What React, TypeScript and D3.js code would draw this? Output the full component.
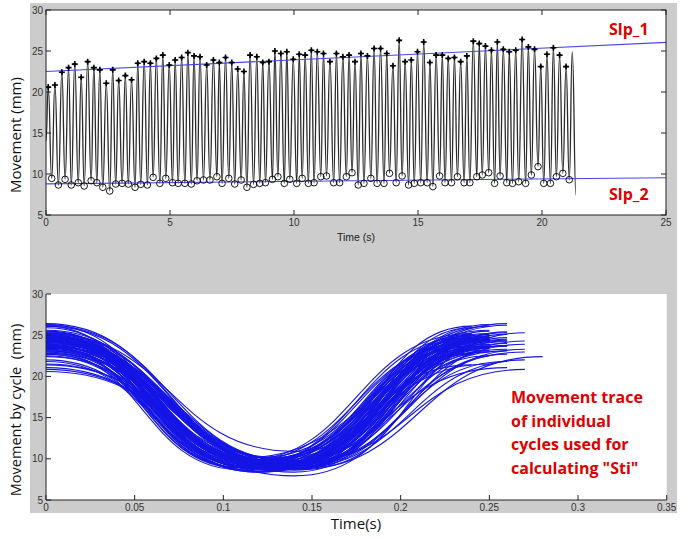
import React from "react";
import * as d3 from "d3";

// ---------- data ----------
// Peak times (s) of the movement trace; last one is the final, unmarked peak
const peakTimes = [
  0.09, 0.36, 0.64, 0.91, 1.16, 1.42, 1.68, 1.93, 2.17, 2.43, 2.69, 2.93, 3.2, 3.45, 3.7, 3.96, 4.21, 4.45, 4.71, 4.97, 5.21, 5.47, 5.72, 5.97,
  6.21, 6.48, 6.75, 6.99, 7.24, 7.49, 7.73, 7.98, 8.23, 8.5, 8.74, 8.99, 9.23, 9.47, 9.71, 9.97, 10.21, 10.45, 10.7, 10.94, 11.19, 11.45, 11.71, 11.97, 12.22,
  12.46, 12.7, 12.96, 13.23, 13.49, 13.74, 13.99, 14.24, 14.48, 14.73, 14.98, 15.23, 15.48, 15.73, 15.98, 16.22, 16.47, 16.72, 16.97, 17.23, 17.47, 17.72, 17.96, 18.2, 18.44,
  18.68, 18.94, 19.2, 19.45, 19.7, 19.95, 20.2, 20.46, 20.71, 20.97, 21.22,
];
const peakValues = [
  20.6, 20.85, 22.4, 22.97, 23.4, 21.8, 23.7, 22.97, 22.7, 21.06, 22.7, 21.4, 22.0, 21.5, 23.5, 23.7, 23.5, 24.1, 24.5, 23.3, 23.9, 24.2, 24.8, 24.4,
  24.3, 23.3, 23.9, 23.6, 24.2, 23.6, 22.8, 22.5, 24.5, 24.3, 23.6, 23.7, 25.0, 24.7, 24.9, 24.0, 24.6, 24.5, 25.1, 24.9, 24.7, 23.7, 24.7, 24.3, 24.5,
  23.7, 24.7, 24.4, 25.3, 25.3, 24.7, 23.2, 26.3, 23.7, 23.9, 24.9, 26.1, 23.6, 24.5, 24.5, 24.1, 24.2, 23.7, 24.4, 26.2, 25.9, 25.6, 25.1, 26.1, 25.2,
  24.9, 25.1, 26.4, 25.5, 25.2, 23.1, 24.6, 25.4, 24.5, 23.1, 24.9,
];
// Trough times (s) and values (mm), one between each pair of peaks
const troughTimes = [
  0.23, 0.5, 0.77, 1.02, 1.3, 1.54, 1.82, 2.05, 2.29, 2.57, 2.81, 3.07, 3.32, 3.59, 3.82, 4.09, 4.32, 4.59, 4.83, 5.1, 5.33, 5.6, 5.86,
  6.09, 6.35, 6.61, 6.89, 7.1, 7.37, 7.61, 7.87, 8.1, 8.37, 8.62, 8.85, 9.13, 9.35, 9.61, 9.83, 10.11, 10.33, 10.58, 10.81, 11.08, 11.31, 11.6, 11.84, 12.11, 12.34,
  12.59, 12.82, 13.1, 13.35, 13.63, 13.85, 14.12, 14.36, 14.62, 14.85, 15.11, 15.37, 15.6, 15.87, 16.09, 16.35, 16.59, 16.86, 17.09, 17.37, 17.59, 17.85, 18.09, 18.31, 18.58,
  18.81, 19.06, 19.34, 19.57, 19.84, 20.07, 20.34, 20.58, 20.84, 21.1,
];
const troughValues = [
  9.47, 8.66, 9.35, 8.66, 8.94, 8.54, 9.18, 8.94, 8.38, 7.93, 8.78, 8.86, 8.78, 8.38, 8.74, 8.66, 9.59, 8.86, 9.47, 8.94, 8.86, 8.86, 8.78,
  9.18, 9.27, 9.27, 9.67, 8.86, 9.47, 8.78, 9.27, 8.38, 8.74, 8.86, 8.94, 9.35, 9.67, 8.86, 9.35, 8.86, 9.47, 8.86, 8.94, 9.67, 9.76, 8.94, 8.94, 9.67, 10.16,
  8.66, 8.86, 9.47, 8.86, 8.86, 10.08, 8.94, 9.76, 8.66, 8.86, 8.94, 8.94, 8.46, 9.76, 8.94, 8.94, 9.67, 8.94, 8.94, 9.67, 9.88, 10.16, 8.86, 9.76, 8.94,
  8.86, 9.06, 8.86, 9.88, 10.9, 8.86, 8.86, 9.67, 10.08, 9.3,
];
const signalStart: [number, number] = [0, 14];
const signalEnd: [number, number] = [21.37, 7.4];
const slp1Line: [number, number][] = [[0, 22.5], [25, 26.05]];
const slp2Line: [number, number][] = [[0, 8.8], [25, 9.55]];

const topXTicks = [0, 5, 10, 15, 20, 25];
const yTicks = [5, 10, 15, 20, 25, 30];
const bottomXTicks = [0, 0.05, 0.1, 0.15, 0.2, 0.25, 0.3, 0.35];
const bottomXTickLabels = ["0", "0.05", "0.1", "0.15", "0.2", "0.25", "0.3", "0.35"];
const noteLines = ["Movement trace", "of individual", "cycles used for", 'calculating "Sti"'];

// ---------- layout ----------
const W = 691;
const H = 540;
const top = { l: 46, r: 666, t: 10, b: 215 };
const bot = { l: 46, r: 666.7, t: 294, b: 500 };

const tickFont = "'Liberation Sans', Arial, sans-serif";
const labelFont = "'Open Sans', 'Noto Sans', sans-serif";
const red = "#e00000";

export default function App() {
  const xTop = d3.scaleLinear().domain([0, 25]).range([top.l, top.r]);
  const yTop = d3.scaleLinear().domain([5, 30]).range([top.b, top.t]);
  const xBot = d3.scaleLinear().domain([0, 0.35]).range([bot.l, bot.r]);
  const yBot = d3.scaleLinear().domain([5, 30]).range([bot.b, bot.t]);

  // full signal: start, p0, t0, p1, ..., p_last, end
  const signal: [number, number][] = [signalStart];
  peakTimes.forEach((pt, i) => {
    signal.push([pt, peakValues[i]]);
    if (i < troughTimes.length) signal.push([troughTimes[i], troughValues[i]]);
  });
  signal.push(signalEnd);

  const lineTop = d3
    .line<[number, number]>()
    .x((d) => xTop(d[0]))
    .y((d) => yTop(d[1]))
    .curve(d3.curveBumpX);
  const straightTop = d3
    .line<[number, number]>()
    .x((d) => xTop(d[0]))
    .y((d) => yTop(d[1]));

  const cycles: [number, number][][] = troughTimes.map((tt, i) => [
    [0, peakValues[i]],
    [tt - peakTimes[i], troughValues[i]],
    [peakTimes[i + 1] - peakTimes[i], peakValues[i + 1]],
  ]);
  const lineBot = d3
    .line<[number, number]>()
    .x((d) => xBot(d[0]))
    .y((d) => yBot(d[1]))
    .curve(d3.curveBumpX);

  const markedPeaks = peakTimes.slice(0, troughTimes.length);

  return (
    <svg
      width={W}
      height={H}
      viewBox={`0 0 ${W} ${H}`}
      style={{ position: "absolute", left: 0, top: 0, background: "#fff" }}
    >
      {/* figure background */}
      <rect x={30} y={3} width={647} height={510} fill="#cccccc" />

      {/* ================= TOP PANEL ================= */}
      <rect x={top.l} y={top.t} width={top.r - top.l} height={top.b - top.t} fill="#fff" />
      <defs>
        <clipPath id="clipTop">
          <rect x={top.l} y={top.t} width={top.r - top.l} height={top.b - top.t} />
        </clipPath>
        <clipPath id="clipBot">
          <rect x={bot.l} y={bot.t} width={bot.r - bot.l} height={bot.b - bot.t} />
        </clipPath>
      </defs>
      <g clipPath="url(#clipTop)">
        <path d={lineTop(signal) || ""} fill="none" stroke="#2a2a2a" strokeWidth={1.3} />
        <path d={straightTop(slp1Line) || ""} fill="none" stroke="#4646f0" strokeWidth={1.1} />
        <path d={straightTop(slp2Line) || ""} fill="none" stroke="#4646f0" strokeWidth={1.1} />
        {markedPeaks.map((pt, i) => {
          const cx = xTop(pt);
          const cy = yTop(peakValues[i]);
          return (
            <g key={"p" + i}>
              <path
                d={`M${cx - 3},${cy}H${cx + 3}M${cx},${cy - 3}V${cy + 3}`}
                stroke="#000"
                strokeWidth={1.6}
              />
              <circle cx={cx} cy={cy} r={1.5} fill="#000" />
            </g>
          );
        })}
        {troughTimes.map((tt, i) => (
          <circle
            key={"t" + i}
            cx={xTop(tt)}
            cy={yTop(troughValues[i])}
            r={3.3}
            fill="none"
            stroke="#000"
            strokeWidth={0.9}
          />
        ))}
      </g>
      {/* box */}
      <rect
        x={top.l}
        y={top.t}
        width={top.r - top.l}
        height={top.b - top.t}
        fill="none"
        stroke="#222"
        strokeWidth={1}
      />
      {/* ticks */}
      {topXTicks.map((t) => (
        <g key={"tx" + t}>
          <line x1={xTop(t)} x2={xTop(t)} y1={top.b} y2={top.b - 5} stroke="#222" />
          <line x1={xTop(t)} x2={xTop(t)} y1={top.t} y2={top.t + 5} stroke="#222" />
          <text
            x={xTop(t)}
            y={top.b + 11}
            textAnchor="middle"
            fontFamily={tickFont}
            fontSize={10}
            fill="#333"
          >
            {t}
          </text>
        </g>
      ))}
      {yTicks.map((t) => (
        <g key={"ty" + t}>
          <line x1={top.l} x2={top.l + 5} y1={yTop(t)} y2={yTop(t)} stroke="#222" />
          <line x1={top.r} x2={top.r - 5} y1={yTop(t)} y2={yTop(t)} stroke="#222" />
          <text
            x={top.l - 3}
            y={yTop(t) + 3.5}
            textAnchor="end"
            fontFamily={tickFont}
            fontSize={10}
            fill="#333"
          >
            {t}
          </text>
        </g>
      ))}
      <text
        x={(top.l + top.r) / 2}
        y={241}
        textAnchor="middle"
        fontFamily={tickFont}
        fontSize={10.5}
        fill="#222"
      >
        Time (s)
      </text>
      <text
        transform={`translate(21,135) rotate(-90)`}
        textAnchor="middle"
        fontFamily={labelFont}
        fontSize={15}
        fill="#111"
      >
        Movement (mm)
      </text>
      <text x={609} y={35} fontFamily={labelFont} fontWeight={700} fontSize={16} fill={red}>
        Slp_1
      </text>
      <text x={609} y={200} fontFamily={labelFont} fontWeight={700} fontSize={16} fill={red}>
        Slp_2
      </text>

      {/* ================= BOTTOM PANEL ================= */}
      <rect x={bot.l} y={bot.t} width={bot.r - bot.l} height={bot.b - bot.t} fill="#fff" />
      <g clipPath="url(#clipBot)">
        {cycles.map((c, i) => (
          <path key={"c" + i} d={lineBot(c) || ""} fill="none" stroke="#1515e6" strokeWidth={1.1} />
        ))}
      </g>
      <line x1={bot.l} x2={bot.l} y1={bot.t} y2={bot.b} stroke="#222" />
      <line x1={bot.l} x2={bot.r} y1={bot.b} y2={bot.b} stroke="#222" />
      {bottomXTicks.map((t, i) => (
        <g key={"bx" + i}>
          <line x1={xBot(t)} x2={xBot(t)} y1={bot.b} y2={bot.b - 5} stroke="#222" />
          <text
            x={xBot(t)}
            y={bot.b + 11}
            textAnchor="middle"
            fontFamily={tickFont}
            fontSize={10}
            fill="#333"
          >
            {bottomXTickLabels[i]}
          </text>
        </g>
      ))}
      {yTicks.map((t) => (
        <g key={"by" + t}>
          <line x1={bot.l} x2={bot.l + 5} y1={yBot(t)} y2={yBot(t)} stroke="#222" />
          <text
            x={bot.l - 3}
            y={yBot(t) + 3.5}
            textAnchor="end"
            fontFamily={tickFont}
            fontSize={10}
            fill="#333"
          >
            {t}
          </text>
        </g>
      ))}
      <text
        x={356}
        y={529}
        textAnchor="middle"
        fontFamily={labelFont}
        fontSize={15}
        fill="#111"
      >
        Time(s)
      </text>
      <text
        transform={`translate(21,410) rotate(-90)`}
        textAnchor="middle"
        fontFamily={labelFont}
        fontSize={14.5}
        fill="#111"
        style={{ whiteSpace: "pre" }}
      >
        {"Movement by cycle  (mm)"}
      </text>
      {noteLines.map((s, i) => (
        <text
          key={"n" + i}
          x={511}
          y={403 + i * 23.6}
          fontFamily={labelFont}
          fontWeight={700}
          fontSize={16}
          fill={red}
        >
          {s}
        </text>
      ))}
    </svg>
  );
}
